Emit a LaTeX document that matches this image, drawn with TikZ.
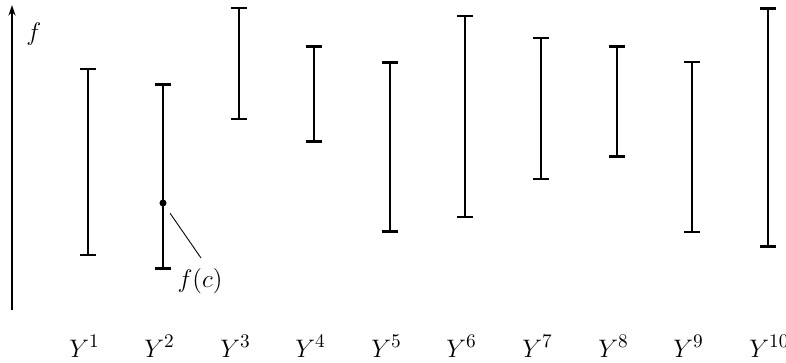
\documentclass[tikz,border=0pt]{standalone}
\usepackage{amsmath}
\usetikzlibrary{arrows.meta}

\begin{document}
\begin{tikzpicture}[
  x=0.02cm, y=-0.02cm,
  errbar/.style={{Bar[width=9pt]}-{Bar[width=9pt]}, line width=#1},
  lab/.style={font=\fontsize{15.5}{18}\selectfont, inner sep=0pt},
  axis/.style={-{Stealth[length=6pt, width=4pt]}, line width=1.6pt}
]
\useasboundingbox (0,0) rectangle (786,362);

% f axis
\coordinate (ax0) at (12,310);
\coordinate (ax1) at (12,5);
\draw[axis] (ax0) -- (ax1);
\node[lab, anchor=base west] (flab) at (26,40) {$f$};

% intervals Y^1 ... Y^10
\foreach \i/\x/\t/\b/\w in {1/88/68/256/0.9pt, 2/163/83/270/1.5pt, 3/239/7/120/0.9pt,
    4/314/45/143/1.5pt, 5/390/61/233/1.5pt, 6/465/15/218/0.9pt, 7/541/37/180/1.2pt,
    8/617/45/158/1.5pt, 9/692/61/233/1pt, 10/768/7/248/1.5pt} {
  \coordinate (t\i) at (\x,\t);
  \coordinate (b\i) at (\x,\b);
  \draw[errbar=\w] (b\i) -- (t\i);
  \node[lab, anchor=base west] (Y\i) at (\x-19,357) {$Y^{\i}$};
}

% the value f(c)
\node[circle, fill, inner sep=0pt, minimum size=4pt] (fc) at (163,203) {};
\coordinate (lead) at (201,258);
\node[lab, anchor=base] (fclab) at (200,287) {$f(c)$};
\draw[line width=0.5pt, shorten <=5pt] (fc) -- (lead);

\end{tikzpicture}
\end{document}
